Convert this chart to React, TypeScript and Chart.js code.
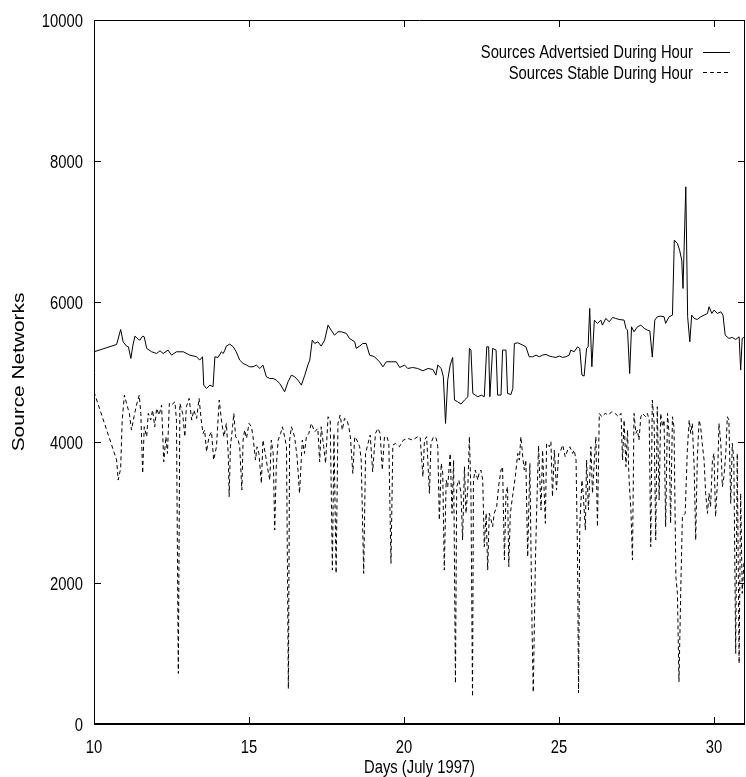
import React, { useEffect, useRef } from 'react';
import { Chart, registerables } from 'chart.js';

Chart.register(...registerables);

const TXT_FONT = "18.5px 'Liberation Sans', Arial, sans-serif";
const SX = 0.8;

const seriesLabels = ['Sources Advertsied During Hour', 'Sources Stable During Hour'];
const xTitle = 'Days (July 1997)';
const yTitle = 'Source Networks';

const advDays = [
  10.00, 10.73, 10.86, 10.94, 11.05, 11.11, 11.19, 11.25, 11.32, 11.43, 11.48, 11.57, 11.62, 11.70, 11.86,
  12.02, 12.13, 12.23, 12.39, 12.50, 12.66, 12.88, 13.09, 13.31, 13.41, 13.50, 13.54, 13.63, 13.74, 13.84,
  13.90, 14.00, 14.11, 14.17, 14.22, 14.27, 14.38, 14.49, 14.59, 14.70, 14.81, 14.92, 15.02, 15.13, 15.24,
  15.35, 15.45, 15.56, 15.67, 15.78, 15.88, 15.99, 16.15, 16.26, 16.37, 16.47, 16.58, 16.69, 16.80, 16.90,
  16.96, 17.04, 17.12, 17.22, 17.33, 17.44, 17.55, 17.65, 17.76, 17.87, 17.98, 18.14, 18.24, 18.41, 18.46,
  18.57, 18.67, 18.78, 18.89, 19.05, 19.21, 19.32, 19.43, 19.59, 19.75, 19.86, 20.02, 20.12, 20.28, 20.44,
  20.61, 20.77, 20.93, 21.03, 21.09, 21.20, 21.27, 21.34, 21.41, 21.49, 21.57, 21.63, 21.73, 21.84, 21.95,
  22.06, 22.11, 22.16, 22.22, 22.38, 22.49, 22.59, 22.67, 22.73, 22.77, 22.86, 22.97, 23.02, 23.13, 23.18,
  23.29, 23.34, 23.45, 23.51, 23.56, 23.67, 23.83, 23.93, 24.04, 24.15, 24.26, 24.36, 24.47, 24.58, 24.69,
  24.79, 24.90, 25.01, 25.12, 25.22, 25.33, 25.38, 25.49, 25.60, 25.67, 25.74, 25.81, 25.89, 25.94, 25.99,
  26.06, 26.14, 26.24, 26.35, 26.40, 26.51, 26.62, 26.73, 26.83, 26.94, 27.10, 27.16, 27.21, 27.28, 27.34,
  27.42, 27.53, 27.64, 27.75, 27.85, 27.93, 28.01, 28.09, 28.17, 28.28, 28.39, 28.44, 28.55, 28.66, 28.72,
  28.82, 28.89, 28.96, 29.00, 29.09, 29.15, 29.22, 29.28, 29.36, 29.46, 29.57, 29.68, 29.79, 29.84, 29.93,
  30.00, 30.11, 30.22, 30.29, 30.36, 30.48, 30.59, 30.70, 30.81, 30.86, 30.91, 31.00,
];

const advValues = [
  5287, 5391, 5604, 5429, 5368, 5358, 5193, 5368, 5510, 5462, 5453, 5510, 5500, 5335, 5287,
  5263, 5301, 5263, 5311, 5240, 5287, 5287, 5240, 5216, 5169, 5216, 4814, 4766, 4814, 4790,
  5216, 5206, 5287, 5263, 5311, 5368, 5396, 5358, 5287, 5169, 5121, 5098, 5074, 5074, 5098,
  5050, 5098, 4932, 4908, 4908, 4885, 4837, 4719, 4861, 4956, 4932, 4885, 4814, 4956, 5100,
  5169, 5453, 5405, 5429, 5368, 5453, 5666, 5595, 5524, 5571, 5571, 5548, 5477, 5429, 5335,
  5368, 5405, 5405, 5240, 5216, 5145, 5074, 5145, 5145, 5145, 5064, 5098, 5050, 5064, 5050,
  5017, 5050, 5036, 4956, 5098, 5050, 4932, 4270, 4885, 5098, 5206, 4601, 4577, 4544, 4601,
  4648, 5335, 5311, 4695, 4648, 4672, 4648, 5358, 5358, 4648, 5335, 5311, 4672, 4672, 5311,
  5311, 4695, 4680, 4766, 5405, 5415, 5382, 5358, 5216, 5216, 5240, 5216, 5240, 5249, 5226,
  5216, 5207, 5226, 5207, 5216, 5240, 5311, 5287, 5358, 5334, 4956, 4942, 5334, 5358, 5903,
  5074, 5737, 5690, 5737, 5666, 5761, 5713, 5775, 5761, 5746, 5737, 5619, 5595, 4979, 5642,
  5571, 5642, 5666, 5619, 5595, 5585, 5211, 5737, 5784, 5794, 5784, 5690, 5784, 5808, 6873,
  6826, 6731, 6589, 6187, 7630, 5784, 5429, 5808, 5761, 5746, 5784, 5808, 5832, 5926, 5832,
  5879, 5832, 5855, 5808, 5524, 5477, 5491, 5462, 5500, 5027, 5477, 5500,
];

const stabDays = [
  10.00, 10.73, 10.78, 10.86, 10.91, 10.98, 11.05, 11.14, 11.21, 11.29, 11.37, 11.46, 11.51, 11.57, 11.62,
  11.70, 11.75, 11.83, 11.89, 11.96, 12.02, 12.10, 12.18, 12.25, 12.32, 12.37, 12.43, 12.50, 12.61, 12.66,
  12.72, 12.77, 12.86, 12.93, 12.98, 13.07, 13.15, 13.22, 13.31, 13.39, 13.47, 13.52, 13.57, 13.63, 13.71,
  13.79, 13.86, 13.95, 14.04, 14.11, 14.19, 14.27, 14.33, 14.36, 14.40, 14.47, 14.51, 14.57, 14.65, 14.70,
  14.77, 14.81, 14.86, 14.92, 15.00, 15.08, 15.13, 15.21, 15.26, 15.32, 15.40, 15.45, 15.54, 15.61, 15.67,
  15.72, 15.78, 15.83, 15.88, 15.94, 16.02, 16.08, 16.15, 16.21, 16.27, 16.31, 16.37, 16.42, 16.47, 16.55,
  16.63, 16.72, 16.79, 16.85, 16.93, 17.01, 17.12, 17.22, 17.28, 17.33, 17.41, 17.47, 17.55, 17.62, 17.69,
  17.74, 17.81, 17.87, 17.94, 18.01, 18.08, 18.16, 18.22, 18.27, 18.35, 18.41, 18.48, 18.57, 18.62, 18.70,
  18.76, 18.84, 18.91, 18.99, 19.08, 19.16, 19.23, 19.30, 19.37, 19.45, 19.51, 19.58, 19.64, 19.73, 19.85,
  19.98, 20.12, 20.28, 20.44, 20.52, 20.61, 20.66, 20.73, 20.82, 20.87, 20.95, 21.04, 21.09, 21.14, 21.20,
  21.25, 21.30, 21.36, 21.41, 21.49, 21.55, 21.60, 21.66, 21.70, 21.77, 21.84, 21.89, 21.95, 22.00, 22.06,
  22.11, 22.16, 22.21, 22.24, 22.30, 22.38, 22.43, 22.48, 22.54, 22.59, 22.65, 22.70, 22.75, 22.81, 22.86,
  22.91, 22.99, 23.05, 23.13, 23.18, 23.24, 23.29, 23.34, 23.38, 23.43, 23.50, 23.59, 23.67, 23.72, 23.77,
  23.83, 23.88, 23.93, 23.99, 24.06, 24.13, 24.17, 24.24, 24.28, 24.34, 24.42, 24.47, 24.56, 24.60, 24.69,
  24.74, 24.79, 24.85, 24.92, 24.99, 25.06, 25.12, 25.20, 25.28, 25.35, 25.44, 25.49, 25.55, 25.60, 25.63,
  25.67, 25.74, 25.78, 25.85, 25.89, 25.95, 26.03, 26.08, 26.14, 26.19, 26.24, 26.30, 26.38, 26.49, 26.60,
  26.70, 26.81, 26.92, 27.00, 27.05, 27.10, 27.16, 27.21, 27.26, 27.32, 27.37, 27.42, 27.48, 27.53, 27.58,
  27.64, 27.69, 27.80, 27.85, 27.91, 27.96, 28.01, 28.07, 28.12, 28.17, 28.23, 28.28, 28.34, 28.39, 28.44,
  28.50, 28.55, 28.60, 28.66, 28.71, 28.77, 28.82, 28.87, 28.93, 28.98, 29.07, 29.14, 29.20, 29.25, 29.30,
  29.36, 29.41, 29.46, 29.52, 29.57, 29.62, 29.68, 29.73, 29.79, 29.84, 29.89, 29.95, 30.00, 30.05, 30.11,
  30.16, 30.22, 30.27, 30.32, 30.38, 30.43, 30.48, 30.54, 30.59, 30.64, 30.70, 30.75, 30.81, 30.86, 30.91,
  30.97,
];

const stabValues = [
  4719, 3749, 3465, 3631, 4317, 4672, 4554, 4412, 4175, 4364, 4530, 4672, 4412, 3560, 4222,
  4080, 4412, 4317, 4459, 4222, 4483, 4388, 4530, 3725, 4080, 3843, 4554, 4530, 4577, 4317,
  719, 4554, 4412, 4080, 4506, 4625, 4317, 4459, 4341, 4625, 4270, 4128, 4175, 3867, 4080,
  4151, 3749, 3938, 4601, 4317, 4080, 4270, 3843, 3228, 3938, 4222, 4412, 4080, 4033, 3938,
  3323, 4033, 4175, 4057, 4270, 4222, 4080, 3749, 3938, 3843, 3418, 4033, 3796, 3607, 3465,
  4033, 3843, 2755, 3654, 4033, 4128, 4222, 4080, 3938, 500, 4033, 4222, 4151, 4080, 3796,
  3276, 4033, 3843, 4080, 4128, 4270, 4151, 4199, 3725, 4222, 3938, 3702, 4364, 4317, 2187,
  4128, 2140, 4270, 4388, 4175, 4341, 4317, 4222, 4080, 3560, 4080, 4033, 3938, 3749, 2140,
  3843, 3986, 4104, 3583, 4128, 4199, 4128, 3607, 4080, 4080, 3986, 2282, 3962, 3986, 3938,
  4033, 4057, 4033, 4080, 4080, 3512, 4033, 4080, 3276, 3986, 4080, 4057, 3938, 2897, 3702,
  3560, 2187, 3465, 3370, 3843, 2992, 3749, 578, 3370, 3465, 3276, 2613, 3654, 2992, 3370,
  4080, 3276, 388, 3465, 3607, 3465, 3583, 3607, 3465, 2518, 2992, 2187, 2992, 2897, 2802,
  2992, 3086, 3370, 3607, 3654, 2329, 3276, 3370, 2234, 2992, 3228, 3512, 3843, 3749, 4080,
  3796, 3607, 3749, 2376, 3702, 1382, 450, 2329, 3039, 3953, 3039, 3891, 2850, 3986, 3938,
  4009, 3228, 3891, 3323, 3843, 3891, 3962, 3796, 3891, 3938, 3843, 3891, 3749, 2329, 440,
  2802, 3465, 3276, 2755, 3749, 3039, 3938, 3276, 3749, 4080, 2802, 4412, 4364, 4412, 4388,
  4435, 4412, 4364, 4412, 3749, 4317, 3654, 4175, 3465, 3039, 2329, 4412, 4128, 4175, 4033,
  4364, 4412, 4364, 4412, 4317, 2518, 4601, 4270, 2613, 4506, 3181, 4412, 4222, 4317, 2802,
  4412, 4128, 2850, 4364, 4222, 2092, 1856, 600, 1950, 2944, 2992, 3891, 4317, 4128, 4270,
  3654, 2613, 3749, 4317, 4222, 3986, 3749, 3276, 2992, 3276, 3086, 3749, 3843, 2944, 3418,
  4270, 3986, 3370, 3512, 3843, 4364, 4317, 3134, 3986, 3749, 1003, 3843, 861, 3276, 1856,
  2329,
];

const xTicks = { min: 10, max: 31, step: 5 };
const yTicks = { min: 0, max: 10000, step: 2000 };

const toPoints = (xs: number[], ys: number[]) => xs.map((x, i) => ({ x, y: ys[i] }));

// gnuplot-style condensed text
function drawText(ctx: CanvasRenderingContext2D, text: string, x: number, y: number, align: CanvasTextAlign) {
  ctx.save();
  ctx.translate(x, y);
  ctx.scale(SX, 1);
  ctx.font = TXT_FONT;
  ctx.textAlign = align;
  ctx.textBaseline = 'alphabetic';
  ctx.fillStyle = '#000';
  ctx.fillText(text, 0, 0);
  ctx.restore();
}

const framePlugin = {
  id: 'gnuFrame',
  afterDatasetsDraw(chart: any) {
    const { ctx, chartArea, scales } = chart;
    const { left, right, top, bottom } = chartArea;
    const tl = 7;
    ctx.save();
    ctx.strokeStyle = '#000';
    ctx.lineWidth = 1;
    ctx.setLineDash([]);
    ctx.beginPath();
    ctx.moveTo(left + 0.5, bottom);
    ctx.lineTo(left + 0.5, top + 0.5);
    ctx.lineTo(right - 0.5, top + 0.5);
    ctx.lineTo(right - 0.5, bottom);
    ctx.stroke();
    ctx.beginPath();
    scales.y.ticks.forEach((t: any) => {
      const py = Math.round(scales.y.getPixelForValue(t.value)) + 0.5;
      ctx.moveTo(left, py);
      ctx.lineTo(left + tl, py);
      ctx.moveTo(right, py);
      ctx.lineTo(right - tl, py);
    });
    scales.x.ticks.forEach((t: any) => {
      const px = Math.round(scales.x.getPixelForValue(t.value)) + 0.5;
      ctx.moveTo(px, bottom);
      ctx.lineTo(px, bottom - tl);
      ctx.moveTo(px, top);
      ctx.lineTo(px, top + tl);
    });
    ctx.stroke();
    ctx.lineWidth = 2;
    ctx.beginPath();
    ctx.moveTo(left, bottom);
    ctx.lineTo(right, bottom);
    ctx.stroke();
    ctx.restore();
  },
  afterDraw(chart: any) {
    const { ctx, chartArea, scales } = chart;
    const { left, right, bottom } = chartArea;
    scales.y.ticks.forEach((t: any) => {
      const py = scales.y.getPixelForValue(t.value);
      drawText(ctx, String(t.label), left - 11, py + 7, 'right');
    });
    scales.x.ticks.forEach((t: any) => {
      const px = scales.x.getPixelForValue(t.value);
      drawText(ctx, String(t.label), px, bottom + 29, 'center');
    });
    drawText(ctx, xTitle, (left + right) / 2, bottom + 49, 'center');
  },
};

const legendPlugin = {
  id: 'gnuLegend',
  afterDatasetsDraw(chart: any) {
    const { ctx, chartArea } = chart;
    const textRight = chartArea.right - 52;
    const lineStart = chartArea.right - 42;
    const lineEnd = chartArea.right - 15;
    chart.data.datasets.forEach((ds: any, i: number) => {
      const base = chartArea.top + 38.3 + i * 20.3;
      drawText(ctx, ds.label, textRight, base, 'right');
      const ly = Math.round(chartArea.top + 31.7 + i * 20.6) + 0.5;
      ctx.save();
      ctx.strokeStyle = '#000';
      ctx.lineWidth = 1;
      ctx.setLineDash(ds.borderDash || []);
      ctx.beginPath();
      ctx.moveTo(lineStart, ly);
      ctx.lineTo(lineEnd, ly);
      ctx.stroke();
      ctx.restore();
    });
  },
};

const yTitlePlugin = {
  id: 'gnuYTitle',
  afterDraw(chart: any) {
    const { ctx, chartArea } = chart;
    ctx.save();
    ctx.translate(24, (chartArea.top + chartArea.bottom) / 2);
    ctx.rotate(-Math.PI / 2);
    ctx.scale(1.28, 1);
    ctx.font = "16.3px 'Liberation Sans', Arial, sans-serif";
    ctx.fillStyle = '#000';
    ctx.textAlign = 'center';
    ctx.textBaseline = 'alphabetic';
    ctx.fillText(yTitle, 0, 0);
    ctx.restore();
  },
};

export default function App() {
  const ref = useRef<HTMLCanvasElement | null>(null);

  useEffect(() => {
    if (!ref.current) return;
    const chart = new Chart(ref.current, {
      type: 'line',
      data: {
        datasets: [
          {
            label: seriesLabels[0],
            data: toPoints(advDays, advValues),
            borderColor: '#000',
            borderWidth: 1,
            pointRadius: 0,
            tension: 0,
            fill: false,
          },
          {
            label: seriesLabels[1],
            data: toPoints(stabDays, stabValues),
            borderColor: '#000',
            borderWidth: 1,
            borderDash: [4, 3],
            pointRadius: 0,
            tension: 0,
            fill: false,
          },
        ],
      },
      options: {
        animation: false,
        responsive: false,
        maintainAspectRatio: false,
        layout: { padding: { left: 0, right: 1, top: 20, bottom: 0 } },
        plugins: {
          legend: { display: false },
          tooltip: { enabled: false },
        },
        scales: {
          x: {
            type: 'linear',
            min: xTicks.min,
            max: xTicks.max,
            afterFit: (s: any) => {
              s.height = 53;
            },
            grid: { display: false },
            border: { display: false },
            ticks: {
              display: false,
              stepSize: xTicks.step,
              includeBounds: false,
              callback: (v: any) => String(v),
            },
            title: { display: false },
          },
          y: {
            min: yTicks.min,
            max: yTicks.max,
            afterFit: (s: any) => {
              s.width = 94;
            },
            grid: { display: false },
            border: { display: false },
            ticks: {
              display: false,
              stepSize: yTicks.step,
              includeBounds: false,
              callback: (v: any) => String(v),
            },
          },
        },
      },
      plugins: [framePlugin, legendPlugin, yTitlePlugin],
    });
    return () => chart.destroy();
  }, []);

  return (
    <div style={{ position: 'absolute', left: 0, top: 0, width: 746, height: 777, background: '#fff' }}>
      <canvas ref={ref} width={746} height={777} style={{ display: 'block' }} />
    </div>
  );
}
